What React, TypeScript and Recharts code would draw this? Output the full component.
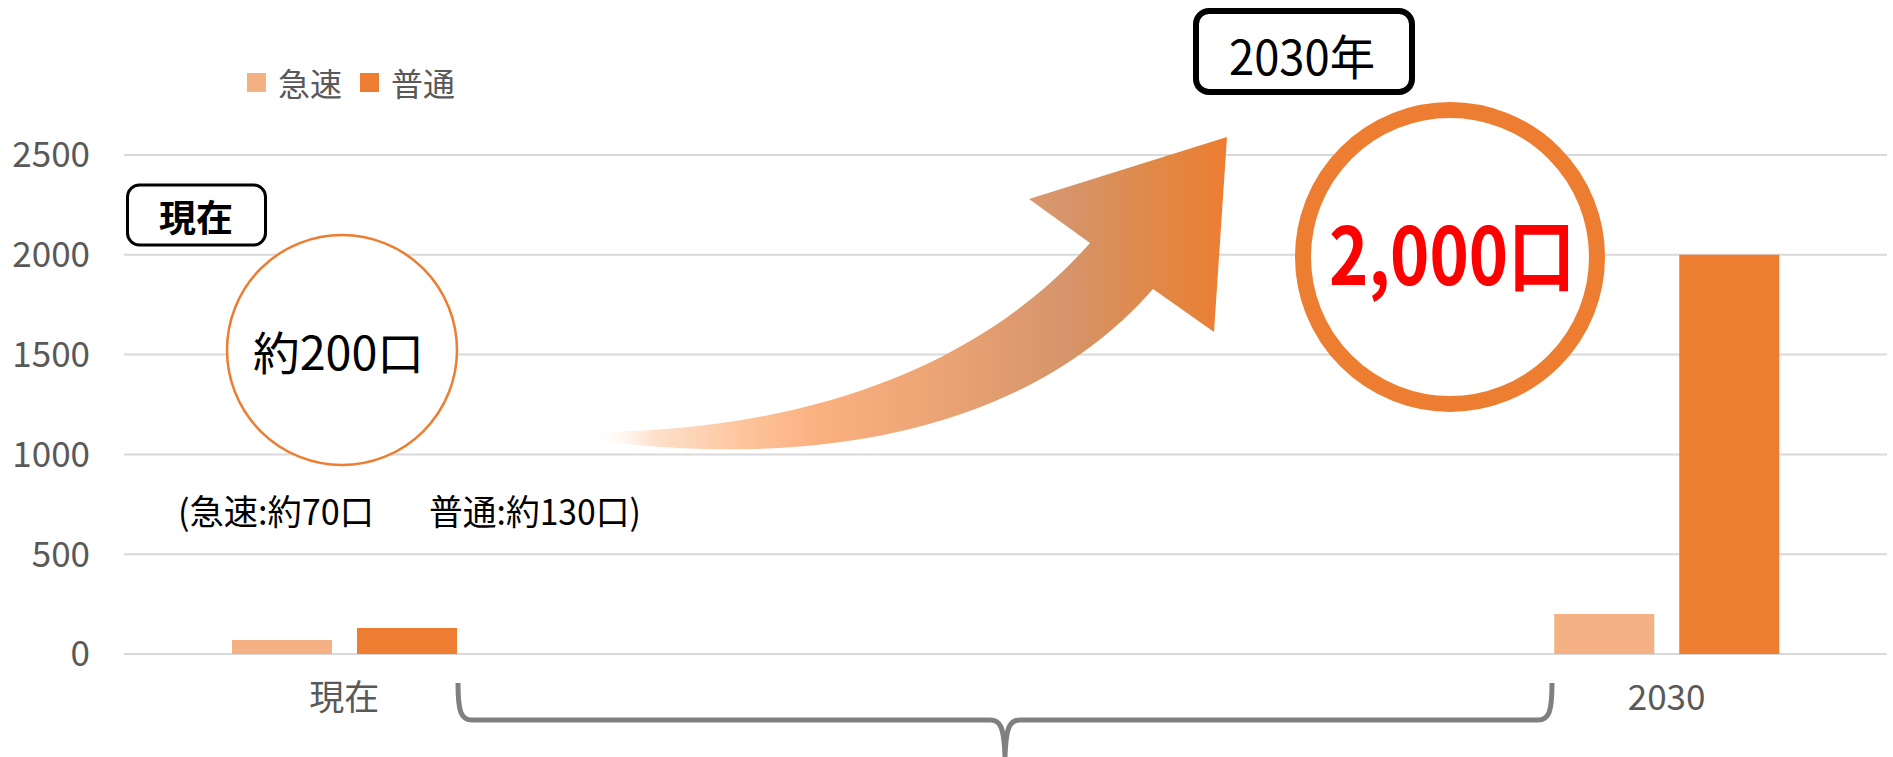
import { BarChart, Bar, XAxis, YAxis, CartesianGrid, Legend } from 'recharts'

const categories = ['現在', '', '', '2030']
const rapidValues = [70, null, null, 200]
const normalValues = [130, null, null, 2000]
const yTicks = [0, 500, 1000, 1500, 2000, 2500]

const RAPID = '#F4B183'
const NORMAL = '#ED7D31'
const FONT = "'Noto Sans CJK JP', 'Noto Sans', sans-serif"

const data = categories.map((name, i) => ({
  name,
  rapid: rapidValues[i],
  normal: normalValues[i],
}))

function LegendContent({ payload }: any) {
  return (
    <div style={{ display: 'flex', alignItems: 'center', fontFamily: FONT }}>
      {(payload ?? []).map((p: any) => (
        <div key={p.value} style={{ display: 'flex', alignItems: 'center', marginRight: 18 }}>
          <span style={{ width: 19, height: 19, background: p.color, display: 'inline-block', marginRight: 12 }} />
          <span style={{ fontSize: 32, color: '#595959', lineHeight: '40px' }}>{p.value}</span>
        </div>
      ))}
    </div>
  )
}

function Decorations() {
  return (
    <g fontFamily={FONT}>
      <defs>
        <linearGradient id="arrowFill" gradientUnits="userSpaceOnUse" x1={589} y1={0} x2={1228} y2={0}>
          <stop offset="0" stopColor="#FFFFFF" stopOpacity={0} />
          <stop offset="0.1" stopColor="#FDE1CC" />
          <stop offset="0.25" stopColor="#FDC39A" />
          <stop offset="0.36" stopColor="#FBB080" />
          <stop offset="0.52" stopColor="#EEA676" />
          <stop offset="0.75" stopColor="#D5946A" />
          <stop offset="0.9" stopColor="#E28744" />
          <stop offset="1" stopColor="#ED7D31" />
        </linearGradient>
      </defs>

      {/* 現在 label */}
      <rect x={127.5} y={185} width={138} height={60} rx={12} fill="#fff" stroke="#000" strokeWidth={3} />
      <text x={196} y={232} textAnchor="middle" fontSize={37} fontWeight={700} fill="#000">現在</text>

      <circle cx={342} cy={350} r={115} fill="#fff" stroke={NORMAL} strokeWidth={2.5} />
      <text x={253} y={370} fontSize={46} fill="#000" textLength={171} lengthAdjust="spacingAndGlyphs">約200口</text>

      <text x={178} y={525} fontSize={35} fill="#000" textLength={196} lengthAdjust="spacingAndGlyphs">(急速:約70口</text>
      <text x={429} y={525} fontSize={35} fill="#000" textLength={212} lengthAdjust="spacingAndGlyphs">普通:約130口)</text>

      {/* growth arrow */}
      <path
        d="M 589 432 C 760 432, 960 390, 1090 243 L 1029 199 L 1227 137 L 1214 332 L 1153 289 C 1030 430, 820 470, 593 440 Z"
        fill="url(#arrowFill)"
      />

      {/* 2030年 label */}
      <rect x={1196} y={11} width={216} height={81} rx={13} fill="#fff" stroke="#000" strokeWidth={6} />
      <text x={1229} y={75} fontSize={48} fill="#000" textLength={146} lengthAdjust="spacingAndGlyphs">2030年</text>

      <circle cx={1450} cy={257} r={147} fill="#fff" stroke={NORMAL} strokeWidth={16} />
      <text x={1329} y={285} fontSize={80} fontWeight={700} fill="#FF0000" textLength={246} lengthAdjust="spacingAndGlyphs">2,000口</text>

      {/* brace under the timeline */}
      <path
        d="M 458 683 C 458 712 461 720 472 720 L 990 720 C 1000 720 1004 726 1005 757 C 1006 726 1010 720 1020 720 L 1538 720 C 1549 720 1552 712 1552 683"
        fill="none"
        stroke="#808080"
        strokeWidth={5}
      />
    </g>
  )
}

export default function App() {
  return (
    <div style={{ position: 'absolute', left: 0, top: 0, width: 1893, height: 757, background: '#fff' }}>
      <BarChart
        width={1893}
        height={757}
        data={data}
        margin={{ top: 155, right: 6, bottom: 43, left: 0 }}
        barSize={100}
        barGap={25}
      >
        <CartesianGrid vertical={false} stroke="#D9D9D9" strokeWidth={2} />
        <XAxis
          dataKey="name"
          axisLine={false}
          tickLine={false}
          height={60}
          tickMargin={25}
          tick={{ fill: '#595959', fontSize: 35, fontFamily: FONT }}
        />
        <YAxis
          width={124}
          domain={[0, 2500]}
          ticks={yTicks}
          axisLine={false}
          tickLine={false}
          tickMargin={28}
          tick={{ fill: '#595959', fontSize: 35, fontFamily: FONT }}
        />
        <Legend
          layout="horizontal"
          verticalAlign="middle"
          align="center"
          content={<LegendContent />}
          wrapperStyle={{ top: 62, left: 247, width: 'auto', height: 'auto' }}
        />
        <Bar dataKey="rapid" name="急速" fill={RAPID} isAnimationActive={false} />
        <Bar dataKey="normal" name="普通" fill={NORMAL} isAnimationActive={false} />
        <Decorations />
      </BarChart>
    </div>
  )
}
